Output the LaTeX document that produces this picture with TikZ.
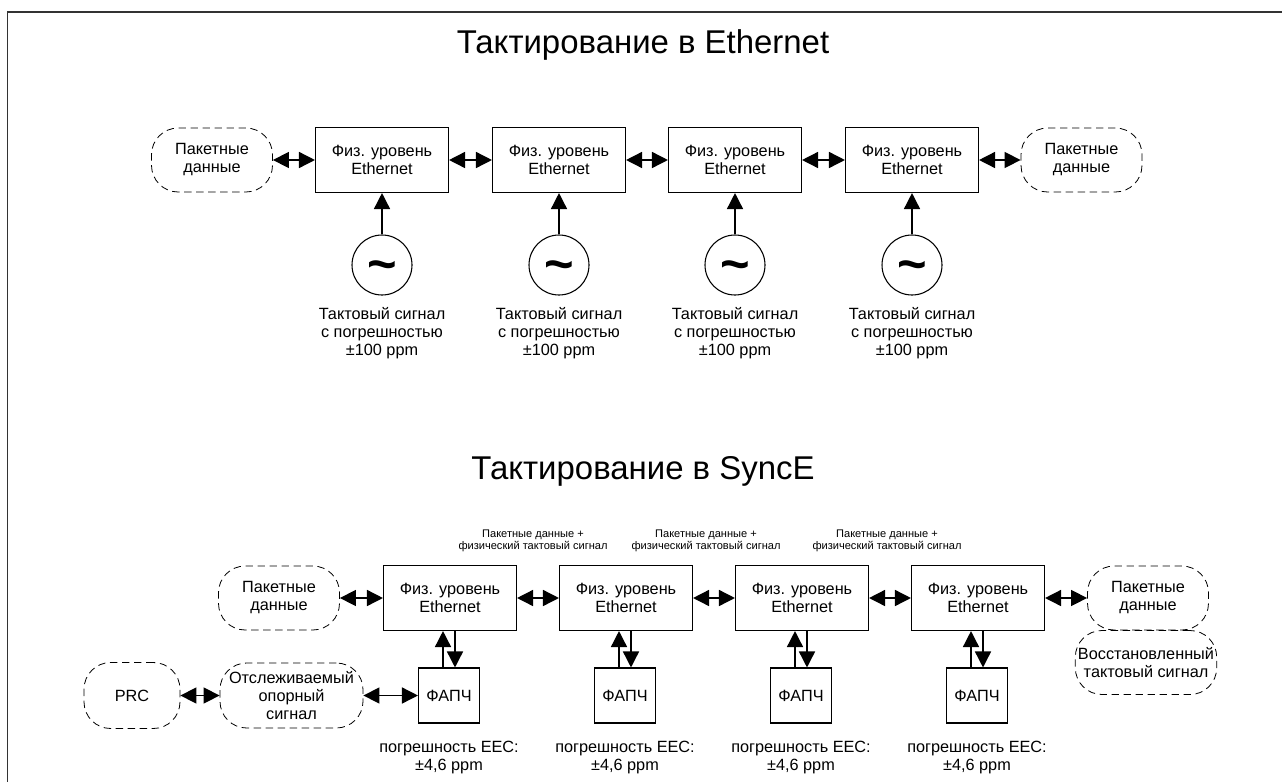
\documentclass[tikz,border=0pt]{standalone}
\usepackage{fontspec}
\setmainfont{Liberation Sans}
\usetikzlibrary{positioning,arrows.meta}
\newcommand{\bodyfont}{\fontsize{12.2}{13.5}\selectfont}
\newcommand{\smallfont}{\fontsize{8.3}{9}\selectfont}
\newcommand{\titlefont}{\fontsize{24.7}{28}\selectfont}
\newcommand{\wave}{{\fontsize{38}{38}\selectfont\bfseries\char"007E}}
\tikzset{
  phy/.style={draw,rectangle,line width=0.8pt,minimum width=99.75pt,minimum height=48.75pt,inner sep=2pt,align=center,font=\bodyfont},
  pll/.style={draw,rectangle,line width=0.8pt,minimum width=45.75pt,minimum height=41.25pt,inner sep=2pt,font=\bodyfont},
  dataflow/.style={draw,rectangle,rounded corners=20pt,dash pattern=on 5.5pt off 3.5pt,line width=0.6pt,minimum width=90.75pt,minimum height=48pt,inner sep=2pt,align=center,font=\bodyfont},
  osc/.style={draw,circle,line width=0.8pt,minimum size=45pt,inner sep=0pt,text height=24pt,text depth=0pt},
  note/.style={align=center,inner sep=0pt,font=\bodyfont},
  tiny/.style={align=center,inner sep=0pt,font=\smallfont},
  title/.style={anchor=base,inner sep=0pt,font=\titlefont},
  link/.style={{Triangle[length=12pt,width=12pt]}-{Triangle[length=12pt,width=12pt]},line width=1.1pt},
  feed/.style={-{Triangle[length=12pt,width=12pt]},line width=1.1pt},
  frameline/.style={draw=black!80,line width=1.1pt}
}
\begin{document}
\begin{tikzpicture}[x=0.75pt,y=-0.75pt]
\useasboundingbox (0,0) rectangle (1282,782);
\draw[frameline] (7.5,782) -- (7.5,12) -- (1282,12);

% Ethernet
\node[title] (ttl1) at (643,53.5) {Тактирование в Ethernet};
\node[dataflow] (pd1) at (212,160) {Пакетные\\данные};
\node[phy] (ph1) at (382,160) {Физ. уровень\\Ethernet};
\node[phy] (ph2) at (559,160) {Физ. уровень\\Ethernet};
\node[phy] (ph3) at (735,160) {Физ. уровень\\Ethernet};
\node[phy] (ph4) at (912,160) {Физ. уровень\\Ethernet};
\node[dataflow] (pd2) at (1081.5,160) {Пакетные\\данные};
\node[osc] (osc1) at (382,265) {\wave};
\node[osc] (osc2) at (559,265) {\wave};
\node[osc] (osc3) at (735,265) {\wave};
\node[osc] (osc4) at (912,265) {\wave};
\node[note] (clk1) [below=9pt of osc1] {Тактовый сигнал\\с погрешностью\\±100 ppm};
\node[note] (clk2) [below=9pt of osc2] {Тактовый сигнал\\с погрешностью\\±100 ppm};
\node[note] (clk3) [below=9pt of osc3] {Тактовый сигнал\\с погрешностью\\±100 ppm};
\node[note] (clk4) [below=9pt of osc4] {Тактовый сигнал\\с погрешностью\\±100 ppm};

\draw[link] (pd1) -- (ph1);
\draw[link] (ph1) -- (ph2);
\draw[link] (ph2) -- (ph3);
\draw[link] (ph3) -- (ph4);
\draw[link] (ph4) -- (pd2);
\draw[feed] (osc1) -- (ph1);
\draw[feed] (osc2) -- (ph2);
\draw[feed] (osc3) -- (ph3);
\draw[feed] (osc4) -- (ph4);

% SyncE
\node[title] (ttl2) at (643,479) {Тактирование в SyncE};
\node[dataflow] (pd3) at (279,598) {Пакетные\\данные};
\node[phy] (ph5) at (450,598) {Физ. уровень\\Ethernet};
\node[phy] (ph6) at (626,598) {Физ. уровень\\Ethernet};
\node[phy] (ph7) at (802,598) {Физ. уровень\\Ethernet};
\node[phy] (ph8) at (978,598) {Физ. уровень\\Ethernet};
\node[dataflow] (pd4) at (1148,598) {Пакетные\\данные};
\node[dataflow,minimum width=104.25pt] (rec) at (1146,662.5) {Восстановленный\\тактовый сигнал};
\node[tiny,anchor=south] (mix1) at (533,552) {Пакетные данные +\\физический тактовый сигнал};
\node[tiny,anchor=south] (mix2) at (706,552) {Пакетные данные +\\физический тактовый сигнал};
\node[tiny,anchor=south] (mix3) at (887,552) {Пакетные данные +\\физический тактовый сигнал};
\node[pll] (f1) at (449,695.5) {ФАПЧ};
\node[pll] (f2) at (625,695.5) {ФАПЧ};
\node[pll] (f3) at (801,695.5) {ФАПЧ};
\node[pll] (f4) at (977,695.5) {ФАПЧ};
\node[dataflow,minimum width=72pt,minimum height=49.5pt] (prc) at (132,695.5) {PRC};
\node[dataflow,minimum width=107.25pt,minimum height=48.75pt] (ref) at (291.5,695.5) {Отслеживаемый\\опорный\\сигнал};
\node[note] (eec1) [below=13pt of f1] {погрешность EEC:\\±4,6 ppm};
\node[note] (eec2) [below=13pt of f2] {погрешность EEC:\\±4,6 ppm};
\node[note] (eec3) [below=13pt of f3] {погрешность EEC:\\±4,6 ppm};
\node[note] (eec4) [below=13pt of f4] {погрешность EEC:\\±4,6 ppm};

\draw[link] (pd3) -- (ph5);
\draw[link] (ph5) -- (ph6);
\draw[link] (ph6) -- (ph7);
\draw[link] (ph7) -- (ph8);
\draw[link] (ph8) -- (pd4);
\draw[link] (prc) -- (ref);
\draw[link] (ref) -- (f1);
\draw[feed] ([xshift=-4.5pt]f1.north) -- ([xshift=-4.5pt]f1.north |- ph5.south);
\draw[feed] ([xshift=4.5pt]f1.north |- ph5.south) -- ([xshift=4.5pt]f1.north);
\draw[feed] ([xshift=-4.5pt]f2.north) -- ([xshift=-4.5pt]f2.north |- ph6.south);
\draw[feed] ([xshift=4.5pt]f2.north |- ph6.south) -- ([xshift=4.5pt]f2.north);
\draw[feed] ([xshift=-4.5pt]f3.north) -- ([xshift=-4.5pt]f3.north |- ph7.south);
\draw[feed] ([xshift=4.5pt]f3.north |- ph7.south) -- ([xshift=4.5pt]f3.north);
\draw[feed] ([xshift=-4.5pt]f4.north) -- ([xshift=-4.5pt]f4.north |- ph8.south);
\draw[feed] ([xshift=4.5pt]f4.north |- ph8.south) -- ([xshift=4.5pt]f4.north);
\end{tikzpicture}
\end{document}
